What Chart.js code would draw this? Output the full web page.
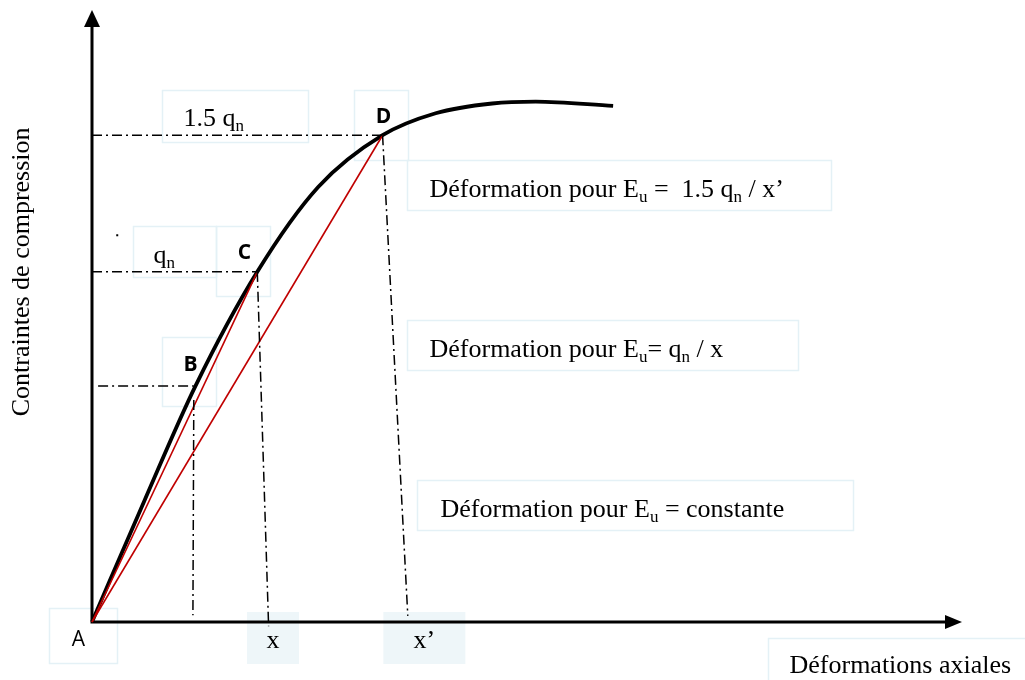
<!DOCTYPE html>
<html>
<head>
<meta charset="utf-8">
<script src="https://cdn.jsdelivr.net/npm/chart.js@4"></script>
<style>
  html, body { margin: 0; padding: 0; background: #fff; }
  canvas { display: block; }
</style>
</head>
<body>
<canvas id="chart" width="1025" height="680"></canvas>
<script>
// stress-strain curve (axial strain, compressive stress), arbitrary units
const curveX = [0, 0.60, 1.19, 1.90, 2.60, 3.34, 3.95, 4.60, 5.10, 5.99];
const curveY = [0, 1.98, 3.87, 5.74, 7.13, 7.98, 8.34, 8.50, 8.53, 8.46];

// named points on the curve
const pointNames = ['A', 'B', 'C', 'D'];
const pointX = [0, 1.17, 1.90, 3.34];
const pointY = [0, 3.87, 5.74, 7.98];

// where the projection lines from B, C, D meet the strain axis
const footX = [1.16, 2.03, 3.63];
const footY = [0.11, -0.07, 0.10];

// strain tick labels (under the feet of C and D)
const tickLabels = ['x', 'x’'];
const tickX = [2.08, 3.82];

const axisTitleX = 'Déformations axiales';
const axisTitleY = 'Contraintes de compression';

const serif = '"Liberation Serif", "Times New Roman", serif';
const sans = '"Open Sans", "Liberation Sans", sans-serif';
const boxColor = '#e4f1f6';

function pts(xs, ys) {
    return xs.map((x, i) => ({ x: x, y: ys[i] }));
}

const dashDot = {
    borderColor: '#000',
    borderWidth: 1.5,
    borderDash: [10, 4, 2, 4],
    pointRadius: 0,
    showLine: true,
    clip: false
};

const datasets = [];

// horizontal projections from the stress axis to B, C, D
[1, 2, 3].forEach(i => {
    datasets.push(Object.assign({}, dashDot, {
        data: [{ x: i === 1 ? 0.07 : 0, y: pointY[i] }, { x: pointX[i], y: pointY[i] }]
    }));
});
// vertical projections down to the strain axis
[1, 2, 3].forEach(i => {
    const y0 = i === 1 ? pointY[i] - 0.23 : pointY[i];
    datasets.push(Object.assign({}, dashDot, {
        data: [{ x: pointX[i], y: y0 }, { x: footX[i - 1], y: footY[i - 1] }]
    }));
});
// secant moduli A-C and A-D
[2, 3].forEach(i => {
    datasets.push({
        data: [{ x: pointX[0], y: pointY[0] }, { x: pointX[i], y: pointY[i] }],
        borderColor: '#c00000',
        borderWidth: 1.6,
        pointRadius: 0,
        showLine: true,
        clip: false
    });
});
// the curve itself
datasets.push({
    data: pts(curveX, curveY),
    borderColor: '#000',
    borderWidth: 3.8,
    pointRadius: 0,
    showLine: true,
    cubicInterpolationMode: 'monotone',
    clip: false
});

// text frames: top-left anchor in data units, size in px
const frames = [
    { ax: 0.80, ay: 8.72, w: 146, h: 52, runs: [['1.5 q'], ['n', 1]], tx: 21, ty: 35 },
    { ax: 3.01, ay: 8.72, w: 54, h: 70, letter: 'D', bold: true, cx: 29, cy: 27 },
    { ax: 0.47, ay: 6.49, w: 83, h: 51, runs: [['q'], ['n', 1]], tx: 20, ty: 36 },
    { ax: 1.43, ay: 6.49, w: 54, h: 70, letter: 'C', bold: true, cx: 28, cy: 27 },
    { ax: 0.80, ay: 4.67, w: 54, h: 69, letter: 'B', bold: true, cx: 28, cy: 28 },
    { ax: -0.49, ay: 0.23, w: 68, h: 55, letter: 'A', bold: false, cx: 29, cy: 32 },
    { ax: 3.62, ay: 7.57, w: 424, h: 50, tx: 22, ty: 36,
      runs: [['Déformation pour E'], ['u', 1], [' =  1.5 q'], ['n', 1], [' / x’']] },
    { ax: 3.62, ay: 4.95, w: 391, h: 50, tx: 22, ty: 36,
      runs: [['Déformation pour E'], ['u', 1], ['= q'], ['n', 1], [' / x']] },
    { ax: 3.74, ay: 2.33, w: 436, h: 50, tx: 23, ty: 36,
      runs: [['Déformation pour E'], ['u', 1], [' = constante']] },
    { ax: 7.77, ay: -0.26, w: 270, h: 50, tx: 21, ty: 34, runs: [[axisTitleX]] }
];

function drawRuns(ctx, runs, x, y) {
    runs.forEach(r => {
        if (r[1]) {
            ctx.font = '17px ' + serif;
            ctx.fillText(r[0], x, y + 5);
        } else {
            ctx.font = '26px ' + serif;
            ctx.fillText(r[0], x, y);
        }
        x += ctx.measureText(r[0]).width;
    });
}

const sketchPlugin = {
    id: 'sketch',
    beforeDatasetsDraw(chart) {
        const ctx = chart.ctx;
        const xs = chart.scales.x, ys = chart.scales.y;
        const px = v => xs.getPixelForValue(v);
        const py = v => ys.getPixelForValue(v);
        ctx.save();

        // shaded frames behind the strain tick labels
        tickLabels.forEach((t, i) => {
            const w = i === 0 ? 52 : 82;
            const cx = px(tickX[i]);
            ctx.fillStyle = '#eef6f9';
            ctx.fillRect(cx - w / 2, py(0) - 10, w, 52);
        });

        frames.forEach(f => {
            const x = Math.round(px(f.ax)) + 0.5, y = Math.round(py(f.ay)) + 0.5;
            ctx.strokeStyle = boxColor;
            ctx.lineWidth = 1.5;
            ctx.strokeRect(x, y, f.w, f.h);
            ctx.fillStyle = '#000';
            if (f.letter) {
                ctx.font = (f.bold ? 'bold 21px ' : '21px ') + sans;
                ctx.textAlign = 'center';
                ctx.textBaseline = 'middle';
                ctx.fillText(f.letter, x + f.cx, y + f.cy);
            } else {
                ctx.textAlign = 'left';
                ctx.textBaseline = 'alphabetic';
                drawRuns(ctx, f.runs, x + f.tx, y + f.ty);
            }
        });

        // strain tick labels
        ctx.fillStyle = '#000';
        ctx.font = '26px ' + serif;
        ctx.textAlign = 'center';
        ctx.textBaseline = 'alphabetic';
        tickLabels.forEach((t, i) => ctx.fillText(t, px(tickX[i]), py(0) + 26));

        // small stray dot left of the q_n frame
        ctx.fillRect(px(0.29) - 1, py(6.34) - 1, 2, 2);

        // stress axis title
        ctx.save();
        ctx.translate(px(0) - 70, py(5.74));
        ctx.rotate(-Math.PI / 2);
        ctx.font = '26px ' + serif;
        ctx.textAlign = 'center';
        ctx.textBaseline = 'middle';
        ctx.fillText(axisTitleY, 0, 0);
        ctx.restore();

        // axes with arrow heads
        const ox = px(0), oy = py(0);
        const top = chart.chartArea.top, right = chart.chartArea.right;
        ctx.strokeStyle = '#000';
        ctx.lineWidth = 3;
        ctx.beginPath();
        ctx.moveTo(ox, oy + 1.5);
        ctx.lineTo(ox, top + 12);
        ctx.moveTo(ox - 1.5, oy);
        ctx.lineTo(right - 14, oy);
        ctx.stroke();
        ctx.fillStyle = '#000';
        ctx.beginPath();
        ctx.moveTo(ox, top - 2);
        ctx.lineTo(ox - 8, top + 15);
        ctx.lineTo(ox + 8, top + 15);
        ctx.closePath();
        ctx.fill();
        ctx.beginPath();
        ctx.moveTo(right, oy);
        ctx.lineTo(right - 17, oy - 7);
        ctx.lineTo(right - 17, oy + 7);
        ctx.closePath();
        ctx.fill();
        ctx.restore();
    }
};

new Chart(document.getElementById('chart'), {
    type: 'scatter',
    data: { datasets: datasets },
    options: {
        responsive: false,
        animation: false,
        events: [],
        layout: { padding: { left: 92, top: 12, right: 63, bottom: 58 } },
        plugins: { legend: { display: false }, tooltip: { enabled: false } },
        scales: {
            x: { type: 'linear', min: 0, max: 10, display: false },
            y: { type: 'linear', min: 0, max: 10, display: false }
        }
    },
    plugins: [sketchPlugin]
});
</script>
</body>
</html>
